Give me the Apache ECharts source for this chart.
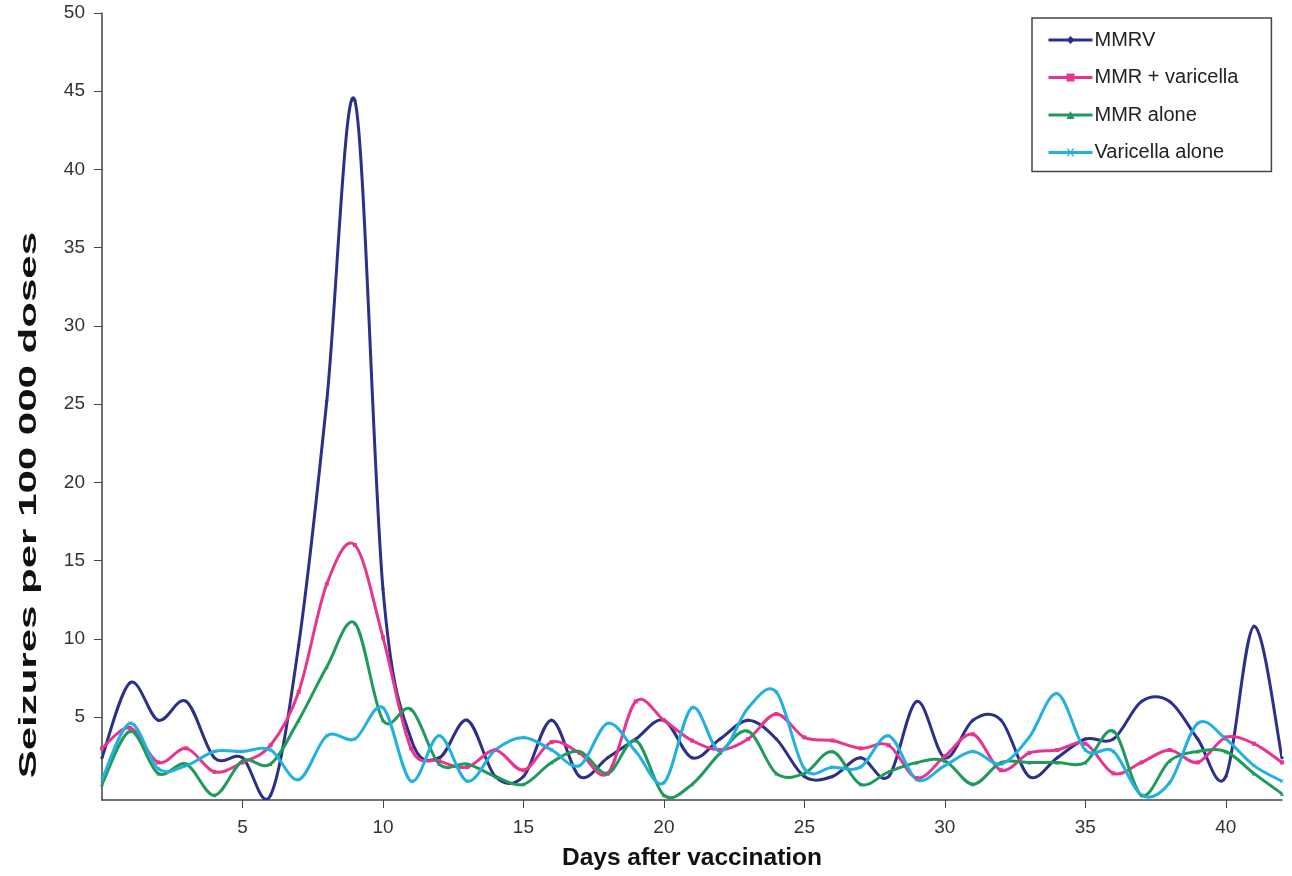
<!DOCTYPE html>
<html>
<head>
<meta charset="utf-8">
<title>Seizures after vaccination</title>
<script src="https://cdn.jsdelivr.net/npm/echarts@6/dist/echarts.min.js"></script>
<style>
html, body { margin: 0; padding: 0; background: #fff; }
#chart { width: 1292px; height: 876px; }
</style>
</head>
<body>
<div id="chart"></div>
<script>
const days = [0, 1, 2, 3, 4, 5, 6, 7, 8, 9, 10, 11, 12, 13, 14, 15, 16, 17, 18, 19, 20,
	21, 22, 23, 24, 25, 26, 27, 28, 29, 30, 31, 32, 33, 34, 35, 36, 37, 38, 39, 40, 41, 42];

const mmrv = [2.4, 7.2, 4.8, 6.0, 2.4, 2.4, 0, 9.6, 25.2, 44.4, 13.2, 3.6, 2.4, 4.8, 1.2, 1.2, 4.8, 1.2, 2.4, 3.6, 4.8,
	2.4, 3.6, 4.8, 3.6, 1.2, 1.2, 2.4, 1.2, 6.0, 2.4, 4.8, 4.8, 1.2, 2.4, 3.6, 3.6, 6.0, 6.0, 3.6, 1.2, 10.8, 2.4];
const mmrPlusVaricella = [3.0, 4.3, 2.1, 3.0, 1.5, 2.1, 3.2, 6.6, 13.5, 16.0, 10.1, 3.0, 2.2, 1.8, 2.9, 1.6, 3.4, 2.7, 1.4, 6.0, 4.8,
	3.5, 2.9, 3.6, 5.2, 3.7, 3.5, 3.0, 3.2, 1.1, 2.5, 3.9, 1.6, 2.7, 2.9, 3.3, 1.4, 2.1, 2.9, 2.1, 3.7, 3.3, 2.1];
const mmrAlone = [0.7, 4.1, 1.4, 2.0, 0, 2.2, 2.0, 4.8, 8.2, 11.0, 4.8, 5.5, 2.0, 2.0, 1.2, 0.7, 2.1, 2.8, 1.4, 3.5, 0,
	0.7, 2.7, 4.1, 1.4, 1.4, 2.8, 0.7, 1.5, 2.1, 2.2, 0.7, 2.1, 2.1, 2.1, 2.1, 4.1, 0, 2.2, 2.8, 2.8, 1.4, 0.1];
const varicellaAlone = [1.0, 4.6, 1.7, 1.9, 2.8, 2.8, 2.9, 1.0, 3.8, 3.6, 5.6, 0.9, 3.8, 0.9, 2.9, 3.7, 2.9, 1.9, 4.6, 2.8, 0.8,
	5.6, 2.8, 5.6, 6.6, 1.7, 1.8, 1.8, 3.8, 1.0, 1.9, 2.8, 2.0, 3.7, 6.5, 2.9, 2.8, 0, 0.8, 4.6, 3.6, 1.9, 0.9];

const xTicks = [5, 10, 15, 20, 25, 30, 35, 40];
const yTicks = [5, 10, 15, 20, 25, 30, 35, 40, 45, 50];

const names = ["MMRV", "MMR + varicella", "MMR alone", "Varicella alone"];
const colors = ["#2d3089", "#e8348e", "#1f9a58", "#21b0e0"];
const crossPath = "path://M0,0L2,0L5,3L8,0L10,0L6,4L10,8L8,8L5,5L2,8L0,8L4,4Z";
const symbols = ["diamond", "rect", "triangle", crossPath];
const seriesData = [mmrv, mmrPlusVaricella, mmrAlone, varicellaAlone];

const font = "Liberation Sans, Arial, sans-serif";

// excel style smoothed line (catmull-rom through every point)
function smoothPath(api, values) {
	const pts = days.map(function (d, j) { return api.coord([d, values[j]]); });
	const n = pts.length;
	let path = "M" + pts[0][0] + "," + pts[0][1];
	for (let j = 0; j < n - 1; j++) {
		const p0 = pts[Math.max(j - 1, 0)];
		const p1 = pts[j];
		const p2 = pts[j + 1];
		const p3 = pts[Math.min(j + 2, n - 1)];
		const c1x = p1[0] + (p2[0] - p0[0]) / 6;
		const c1y = p1[1] + (p2[1] - p0[1]) / 6;
		const c2x = p2[0] - (p3[0] - p1[0]) / 6;
		const c2y = p2[1] - (p3[1] - p1[1]) / 6;
		path += "C" + c1x + "," + c1y + "," + c2x + "," + c2y + "," + p2[0] + "," + p2[1];
	}
	return path;
}

const curveSeries = seriesData.map(function (values, i) {
	return {
		type: "custom",
		clip: true,
		z: 2,
		silent: true,
		encode: { x: 0, y: 1 },
		data: days.map(function (d, j) { return [d, values[j]]; }),
		renderItem: function (params, api) {
			if (params.dataIndex !== 0) {
				return null;
			}
			return {
				type: "path",
				shape: { pathData: smoothPath(api, values) },
				style: {
					fill: null,
					stroke: colors[i],
					lineWidth: 3,
					lineJoin: "round"
				}
			};
		}
	};
});

const markerSeries = names.map(function (name, i) {
	return {
		name: name,
		type: "line",
		z: 3,
		symbol: symbols[i],
		symbolSize: 4,
		showSymbol: true,
		lineStyle: { width: 3, color: colors[i], opacity: 0 },
		itemStyle: { color: colors[i] },
		data: days.map(function (d, j) { return [d, seriesData[i][j]]; })
	};
});

const chart = echarts.init(document.getElementById("chart"));
chart.setOption({
	animation: false,
	color: colors,
	grid: {
		left: 102,
		right: 10,
		top: 13,
		bottom: 73
	},
	legend: {
		orient: "vertical",
		left: 1032,
		top: 18,
		padding: [12, 33, 9, 15],
		itemGap: 17.5,
		itemWidth: 44,
		itemHeight: 10,
		borderColor: "#444",
		borderWidth: 1.5,
		lineStyle: { width: 3, opacity: 1 },
		textStyle: {
			fontFamily: font,
			fontSize: 20,
			color: "#222",
			padding: [0, 0, 0, -3]
		},
		data: names
	},
	graphic: [{
		type: "text",
		left: 17,
		top: 232,
		rotation: Math.PI / 2,
		scaleX: 1.75,
		style: {
			text: "Seizures per 100 000 doses",
			font: "bold 24px Liberation Sans, Arial, sans-serif",
			fill: "#111"
		}
	}],
	xAxis: {
		type: "value",
		min: 0,
		max: 42,
		name: "Days after vaccination",
		nameLocation: "middle",
		nameGap: 46,
		nameTextStyle: {
			fontFamily: font,
			fontSize: 24.5,
			fontWeight: "bold",
			color: "#111"
		},
		axisLine: {
			onZero: false,
			lineStyle: { color: "#444", width: 1.5 }
		},
		axisTick: {
			show: true,
			length: 8,
			customValues: xTicks,
			lineStyle: { color: "#444" }
		},
		axisLabel: {
			customValues: xTicks,
			fontFamily: font,
			fontSize: 19,
			color: "#333",
			margin: 18
		},
		splitLine: { show: false }
	},
	yAxis: {
		type: "value",
		min: -0.3,
		max: 50,
		axisLine: {
			show: true,
			onZero: false,
			lineStyle: { color: "#444", width: 1.5 }
		},
		axisTick: {
			show: true,
			length: 8,
			customValues: yTicks,
			lineStyle: { color: "#444" }
		},
		axisLabel: {
			customValues: yTicks,
			fontFamily: font,
			fontSize: 19,
			color: "#333",
			margin: 17
		},
		splitLine: { show: false }
	},
	series: markerSeries.concat(curveSeries)
});
</script>
</body>
</html>
